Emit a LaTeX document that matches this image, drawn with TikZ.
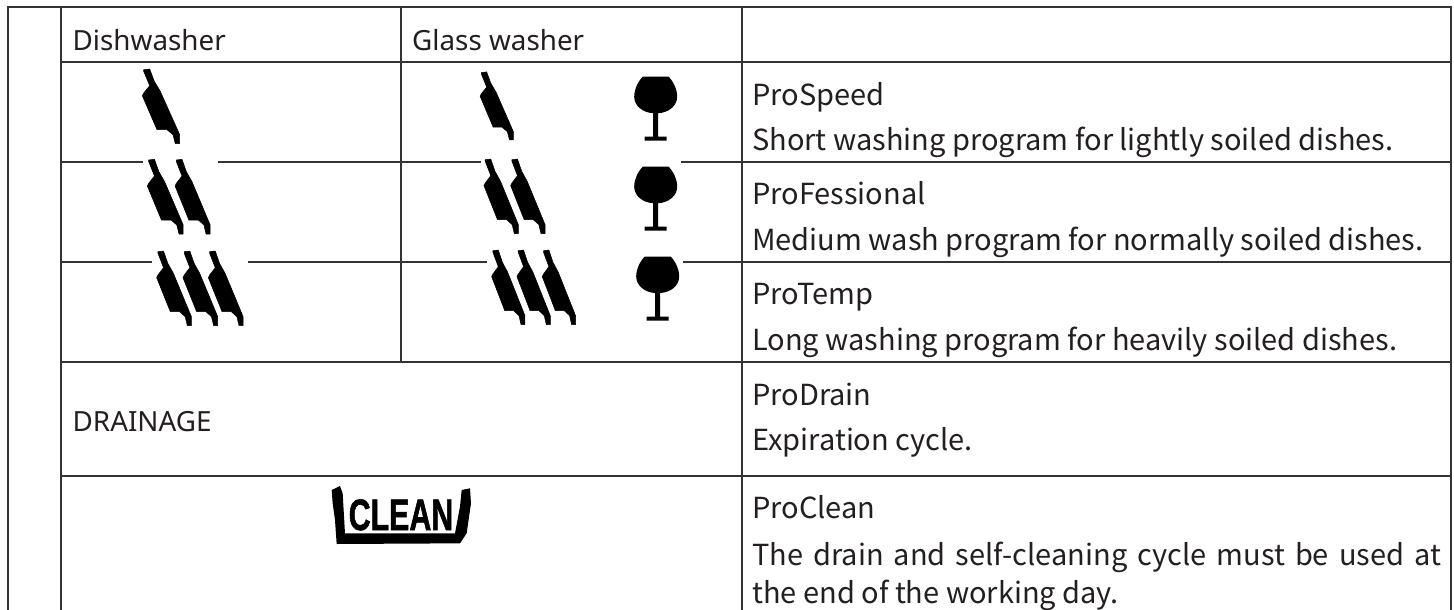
\documentclass[tikz,border=0pt]{standalone}
\usepackage{fontspec}
\setmainfont{Noto Sans CJK SC}
\newfontfamily\headfont{Noto Sans}
\newfontfamily\iconfont[BoldFeatures={FakeBold=1.5}]{Liberation Sans}
\definecolor{ln}{HTML}{333333}
\definecolor{tx}{HTML}{231F20}
\tikzset{
 x=1pt,y=-1pt,
 gridline/.style={draw=ln,line width=2pt},
 cell/.style={anchor=base west,inner sep=0pt,text=tx,font=\fontsize{29}{32}\selectfont},
 headcell/.style={anchor=base west,inner sep=0pt,text=tx,font=\headfont\fontsize{27.8}{32}\selectfont},
 mask/.style={fill=white,draw=none},
 knifeglyph/.pic={\filldraw[black,line width=.5pt,line join=round] (0.7,1.7)--(6.7,1)--(11.3,13.3)--(17.3,23.3)--(36.7,66.7)--(36.7,75.7)--(32.3,75.7)--(30,66.7)--(24,61.7)--(14,61.7)--(-0.7,27.7)--(0.7,25)--(6.7,17.7)--(0.7,3.3)--cycle;},
 glassglyph/.pic={\fill[black] (-13,0) -- (13,0) .. controls (16,3) and (21.5,11) .. (21.5,20) .. controls (21.5,29) and (13,36) .. (2.5,36.5) -- (2.5,60) -- (11,60) -- (11,64) -- (-11,64) -- (-11,60) -- (-2.5,60) -- (-2.5,36.5) .. controls (-13,36) and (-21.5,29) .. (-21.5,20) .. controls (-21.5,11) and (-16,3) .. (-13,0) -- cycle;},
 basinglyph/.pic={\fill[black] (185,60)--(210,48)--(218,70)--(225,190)--(555,190)--(570,110)--(575,60)--(600,55)--(603,100)--(590,190)--(570,220)--(200,222)--(195,150)--(188,100)--cycle;},
}
\begin{document}
\begin{tikzpicture}
\useasboundingbox (0,0) rectangle (1454,610);
\fill[white] (0,0) rectangle (1454,610);
% grid
\draw[gridline] (8,610)--(8,7.5)--(1451,7.5)--(1451,610);
\draw[gridline] (60.7,7.5)--(60.7,610);
\draw[gridline] (741.5,7.5)--(741.5,610);
\draw[gridline] (401,7.5)--(401,361.7);
\draw[gridline] (60.7,61.7)--(1451,61.7);
\draw[gridline] (60.7,161.7)--(1451,161.7);
\draw[gridline] (60.7,261.7)--(1451,261.7);
\draw[gridline] (60.7,361.7)--(1451,361.7);
\draw[gridline] (60.7,475.5)--(1451,475.5);
% gaps in the rules behind the icons
\fill[mask] (143.3,159) rectangle (217.7,164);
\fill[mask] (480.7,159) rectangle (681,164);
\fill[mask] (151.7,259) rectangle (247.7,264);
\fill[mask] (486.7,259) rectangle (682.7,264);
% knives
\pic at (143,68) {knifeglyph};
\pic[xscale=.89,yscale=.91] at (480.7,71) {knifeglyph};
\pic[xscale=.96] at (148,158.3) {knifeglyph};
\pic[xscale=.94] at (175.7,158.3) {knifeglyph};
\pic[xscale=.92] at (484.6,158) {knifeglyph};
\pic[xscale=.92] at (511.3,158) {knifeglyph};
\pic[xscale=.93] at (157.3,250) {knifeglyph};
\pic[xscale=.93] at (183.6,250) {knifeglyph};
\pic[xscale=.93] at (209,250) {knifeglyph};
\pic[xscale=.89] at (492.3,249) {knifeglyph};
\pic[xscale=.89] at (517.6,249) {knifeglyph};
\pic[xscale=.89] at (542.9,249) {knifeglyph};
% glasses
\pic at (655.7,76.7) {glassglyph};
\pic at (655.7,166.7) {glassglyph};
\pic at (657.7,256.5) {glassglyph};
% clean basin
\pic[scale=1/3] at (270,470) {basinglyph};
\node[anchor=base,inner sep=0pt,xscale=.69,text=black,font=\iconfont\bfseries\fontsize{44}{46}\selectfont] (cln) at (401,530) {CLEAN};
% texts
\node[headcell] (d) at (72.5,50.7) {Dishwasher};
\node[headcell] (g) at (412,50.7) {Glass washer};
\node[headcell] (dr) at (72.5,431) {DRAINAGE};
\node[cell] (a1) at (752,105) {ProSpeed};
\node[cell] (a2) at (752,150.7) {Short washing program for lightly soiled dishes.};
\node[cell] (b1) at (752,204) {ProFessional};
\node[cell] (b2) at (752,250) {Medium wash program for normally soiled dishes.};
\node[cell] (c1) at (752,304) {ProTemp};
\node[cell] (c2) at (752,350) {Long washing program for heavily soiled dishes.};
\node[cell] (e1) at (752,405.7) {ProDrain};
\node[cell] (e2) at (752,450.7) {Expiration cycle.};
\node[cell] (f1) at (752,518.3) {ProClean};
\node[cell] (f2) at (752,565) {\makebox[689pt][s]{The drain and self-cleaning cycle must be used at}};
\node[cell] (f3) at (752,603) {the end of the working day.};
\end{tikzpicture}
\end{document}
